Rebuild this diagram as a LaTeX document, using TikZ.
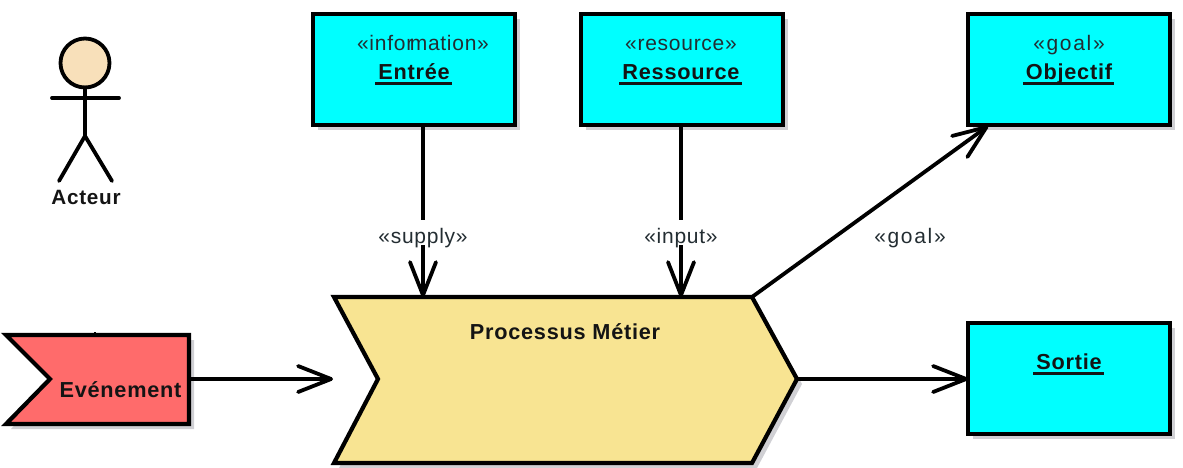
\documentclass[tikz,border=0pt]{standalone}
\usepackage{fontspec}
\setmainfont{Liberation Sans}
\newfontfamily\regfont[LetterSpace=3.5]{Liberation Sans}
\newfontfamily\widefont[LetterSpace=8]{Liberation Sans}
\newfontfamily\boldfont[LetterSpace=3.5]{Liberation Sans Bold}
\usetikzlibrary{arrows.meta,calc}
\tikzset{
  every node/.append style={inner sep=0pt,outer sep=0pt,align=center},
  edgeline/.style={line width=3.8pt,black,line cap=round,-{Straight Barb[length=33pt,width=26pt,line width=3.8pt,round]}},
  box/.style={draw=black,line width=4.2pt,fill=boxcyan,minimum width=202pt,minimum height=111pt,anchor=north west},
  stereo/.style={font=\fontsize{21}{25}\regfont,text=textgray,anchor=base},
  widestereo/.style={font=\fontsize{21}{25}\widefont,text=textgray,anchor=base},
  boldname/.style={font=\fontsize{21.7}{25}\boldfont,text=black!92,anchor=base},
  gaplabel/.style={fill=white,text height=23pt,text depth=2pt},
  outlined/.style={draw=black,line width=4.2pt,line join=miter},
  actorline/.style={draw=black,line width=3.8pt,line cap=round}
}
\definecolor{boxcyan}{RGB}{0,255,255}
\definecolor{shadowgray}{RGB}{208,208,212}
\definecolor{textgray}{RGB}{35,45,50}
\definecolor{procyellow}{RGB}{248,228,146}
\definecolor{evred}{RGB}{255,107,107}
\definecolor{skin}{RGB}{248,224,186}
\newcommand{\ulname}[1]{\setbox0\hbox{#1}\rlap{\kern-3pt\rule[-5.5pt]{\dimexpr\wd0+5pt\relax}{2.6pt}}\box0}
\begin{document}
\begin{tikzpicture}[x=1pt,y=-1pt]
\useasboundingbox (0,0) rectangle (1183,467);
% shadows
\foreach \xa/\ya in {313/14,581/14,968/14,968/323}{
  \fill[shadowgray] (\xa+5,\ya+5) rectangle ++(202,111);
}
\fill[shadowgray] (339,302) -- (757,302) -- (802,384) -- (757,468) -- (339,468) -- (383,384) -- cycle;
\fill[shadowgray] (11,340) -- (194,340) -- (194,429) -- (11,429) -- (55,384) -- cycle;
% boxes
\node[box] (entree) at (313,14) {};
\node[box] (ressource) at (581,14) {};
\node[box] (objectif) at (968,14) {};
\node[box] (sortie) at (968,323) {};
\node[stereo] (entreeS) at (423,50) {«infor\kern-3.5pt mation»};
\node[boldname] (entreeN) at (414,79) {\ulname{Entrée}};
\node[stereo] (ressourceS) at (681,50) {«resource»};
\node[boldname] (ressourceN) at (681,79) {\ulname{Ressource}};
\node[widestereo] (objectifS) at (1069,50) {«goal»};
\node[boldname] (objectifN) at (1069,79) {\ulname{Objectif}};
\node[boldname] (sortieN) at (1069,369) {\ulname{Sortie}};
% process
\coordinate (pa) at (334,297);
\coordinate (pb) at (752,297);
\coordinate (pc) at (797,379);
\coordinate (pd) at (752,463);
\coordinate (pe) at (334,463);
\coordinate (pf) at (378,379);
\coordinate (pin) at (423,297);
\coordinate (pres) at (681,297);
\draw[outlined,fill=procyellow] (pa) -- (pb) -- (pc) -- (pd) -- (pe) -- (pf) -- cycle;
\node[boldname] (procN) at (565,339) {Processus Métier};
% event
\coordinate (ea) at (6,335);
\coordinate (eb) at (189,335);
\coordinate (ec) at (189,379);
\coordinate (ed) at (189,424);
\coordinate (ee) at (6,424);
\coordinate (ef) at (50,379);
\coordinate (tickA) at (95,335);
\coordinate (tickB) at (95,331.5);
\draw[line width=2.4pt,black] (tickA) -- (tickB);
\draw[outlined,fill=evred] (ea) -- (eb) -- (ed) -- (ee) -- (ef) -- cycle;
\node[boldname] (evN) at (120.5,397) {Evénement};
% actor
\node[circle,draw=black,line width=3.8pt,fill=skin,minimum size=49pt] (head) at (85,63) {};
\coordinate (armL) at (52,98);
\coordinate (armR) at (119,98);
\coordinate (hip) at (85,136);
\coordinate (legL) at (59,181);
\coordinate (legR) at (112,181);
\draw[actorline] (head.south) -- (hip);
\draw[actorline] (armL) -- (armR);
\draw[actorline] (legL) -- (hip) -- (legR);
\node[boldname,font=\fontsize{20.7}{24}\boldfont] (acteur) at (86,204) {Acteur};
% connectors
\coordinate (outE) at (423,125);
\coordinate (outR) at (681,125);
\coordinate (inO) at (988,126);
\coordinate (inS) at (968,379);
\coordinate (inP) at (333,379);
\draw[edgeline] (outE) -- (pin);
\draw[edgeline] (outR) -- (pres);
\draw[edgeline] (pb) -- (inO);
\draw[edgeline] (pc) -- (inS);
\draw[edgeline] (ec) -- (inP);
% edge labels
\node[stereo,gaplabel] (supply) at (423,243) {«supply»};
\node[stereo,gaplabel] (input) at (681,243) {«input»};
\node[widestereo] (goal) at (910,243) {«goal»};
\end{tikzpicture}
\end{document}
